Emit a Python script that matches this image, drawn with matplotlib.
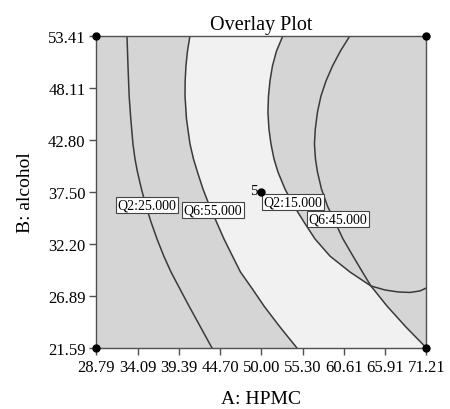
import numpy as np
import matplotlib.pyplot as plt

plt.rcParams['font.family'] = ['Liberation Serif', 'DejaVu Serif']

# axis ticks (A: HPMC, B: alcohol)
x_ticks = [28.79, 34.09, 39.39, 44.70, 50.00, 55.30, 60.61, 65.91, 71.21]
y_ticks = [21.59, 26.89, 32.20, 37.50, 42.80, 48.11, 53.41]

# contour lines, top to bottom
q2_25_x = [32.71, 32.84, 32.99, 33.20, 33.48, 33.74, 34.06, 34.57, 35.15,
           35.80, 36.57, 37.44, 38.37, 39.52, 40.68, 42.16, 43.64]
q2_25_y = [53.41, 50.32, 47.27, 44.92, 42.38, 40.85, 39.52, 37.79, 36.06,
           34.43, 32.70, 30.96, 29.33, 27.60, 25.87, 23.73, 21.59]

q6_55_x = [40.81, 40.49, 40.29, 40.19, 40.17, 40.36, 40.81, 41.26, 41.77, 42.48,
           43.32, 44.22, 45.18, 46.27, 47.30, 48.84, 50.32, 52.38, 54.56]
q6_55_y = [53.41, 51.85, 50.32, 48.79, 47.27, 44.92, 42.38, 40.85, 39.52, 37.79,
           36.06, 34.43, 32.70, 30.96, 29.33, 27.60, 25.87, 23.73, 21.59]

q2_15_x = [52.76, 51.93, 51.41, 51.09, 50.90, 50.83, 50.96, 51.22, 51.61, 52.12, 53.02,
           54.18, 55.46, 56.88, 58.80, 61.38, 64.07, 65.88, 67.55, 69.09, 70.37, 71.21]
q2_15_y = [53.41, 51.85, 50.32, 48.79, 47.27, 45.64, 43.90, 42.38, 40.85, 39.52, 37.79,
           36.06, 34.43, 32.70, 30.96, 29.33, 27.91, 27.50, 27.30, 27.25, 27.40, 27.71]

q6_45_x = [61.38, 60.15, 59.13, 58.29, 57.65, 57.20, 56.92, 56.81, 56.94, 57.20,
           57.71, 58.48, 59.45, 60.48, 61.76, 62.98, 64.07, 66.13, 68.57, 71.21]
q6_45_y = [53.41, 51.85, 50.32, 48.79, 47.27, 45.64, 43.90, 42.38, 40.85, 39.52,
           37.79, 36.06, 34.43, 32.70, 30.96, 29.33, 27.91, 25.87, 23.73, 21.59]

# contour label texts and where they sit
labels = ['Q2:25.000', 'Q6:55.000', 'Q2:15.000', 'Q6:45.000']
label_x = [35.28, 43.77, 54.05, 59.83]
label_y = [36.16, 35.65, 36.47, 34.73]

# design points
corner_x = [28.79, 71.21, 28.79, 71.21]
corner_y = [53.41, 53.41, 21.59, 21.59]
center_x, center_y, center_n = 50.00, 37.50, '5'

fig = plt.figure(figsize=(4.5, 4.1), dpi=100)
ax = fig.add_axes([0.2144, 0.1488, 0.7333, 0.7617])
ax.set_facecolor('#d5d5d5')

# feasible (white) window: left side Q6=55, right side Q2=15 then Q6=45
i3 = q2_15_x.index(64.07)
i4 = q6_45_x.index(64.07)
wx = q6_55_x + q6_45_x[i4:][::-1] + q2_15_x[:i3][::-1]
wy = q6_55_y + q6_45_y[i4:][::-1] + q2_15_y[:i3][::-1]
ax.fill(wx, wy, color='#f1f1f1', lw=0, zorder=1)

for cx, cy in [(q2_25_x, q2_25_y), (q6_55_x, q6_55_y),
               (q2_15_x, q2_15_y), (q6_45_x, q6_45_y)]:
    ax.plot(cx, cy, color='#3a3a3a', lw=1.1, zorder=2, solid_joinstyle='round')

for t, lx, ly in zip(labels, label_x, label_y):
    ax.text(lx, ly, t, fontsize=10, ha='center', va='center', zorder=4,
            bbox=dict(boxstyle='square,pad=0.12', fc='white', ec='#444444', lw=0.8))

ax.plot(corner_x, corner_y, 'o', color='black', ms=5, clip_on=False, zorder=5)
ax.plot([center_x], [center_y], 'o', color='black', ms=5, zorder=5)
ax.annotate(center_n, (center_x, center_y), xytext=(-3, 1), textcoords='offset points',
            ha='right', va='center', fontsize=11, zorder=5)

ax.set_xlim(28.79, 71.21)
ax.set_ylim(21.59, 53.41)
ax.set_xticks(x_ticks)
ax.set_xticklabels([f'{v:.2f}' for v in x_ticks])
ax.set_yticks(y_ticks)
ax.set_yticklabels([f'{v:.2f}' for v in y_ticks])
ax.tick_params(direction='out', length=5, width=1, color='#505050',
               labelsize=12, pad=3)
for s in ax.spines.values():
    s.set_color('#505050')
    s.set_linewidth(1)

ax.set_title('Overlay Plot', fontsize=14.5, pad=5)
ax.set_xlabel('A: HPMC', fontsize=14, labelpad=11)
ax.set_ylabel('B: alcohol', fontsize=14, labelpad=10)

fig.savefig('out.png', dpi=100)
